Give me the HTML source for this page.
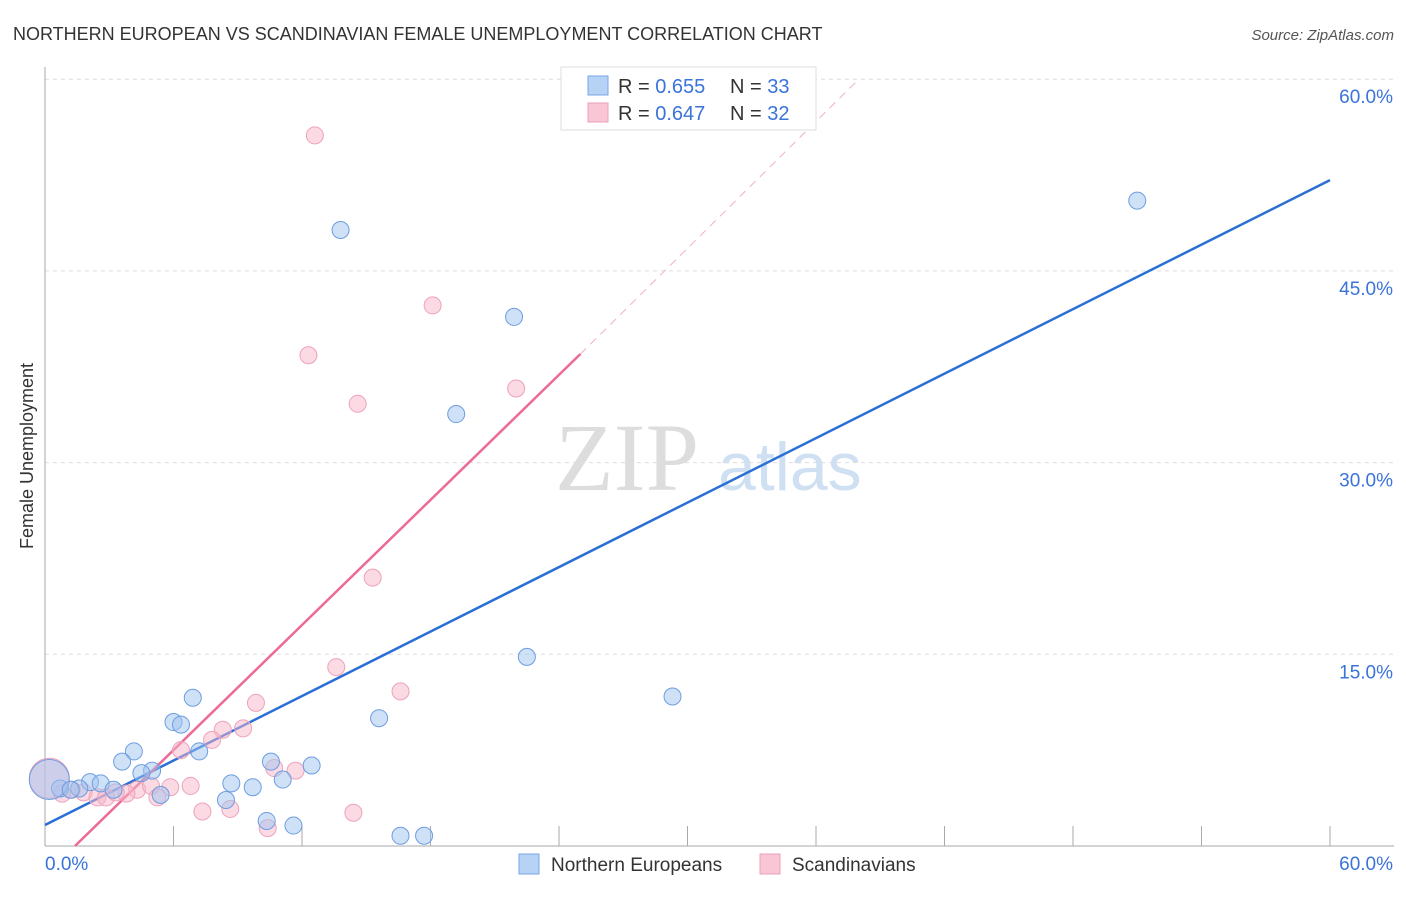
<!DOCTYPE html>
<html><head><meta charset="utf-8"><style>
body{margin:0;background:#fff;font-family:"Liberation Sans",sans-serif}
</style></head><body>
<svg width="1406" height="892" xmlns="http://www.w3.org/2000/svg" id="chart">
<text x="13" y="40" font-size="18" fill="#333">NORTHERN EUROPEAN VS SCANDINAVIAN FEMALE UNEMPLOYMENT CORRELATION CHART</text>
<text x="1394" y="40" font-size="15" fill="#555" font-style="italic" text-anchor="end">Source: ZipAtlas.com</text>
<text x="33" y="456" font-size="18" fill="#333" text-anchor="middle" transform="rotate(-90 33 456)">Female Unemployment</text>
<text x="555" y="490" font-size="96" fill="#ddd" font-family="Liberation Serif,serif">ZIP</text>
<text x="718" y="490" font-size="68" fill="#cfe0f3">atlas</text>
<g id="grid"></g><g id="axes"></g><g id="lines"></g><g id="pts"></g>
<g>
<rect x="561" y="67" width="255" height="63" fill="#fff" stroke="#ddd"/>
<rect x="588" y="76" width="20" height="19" fill="#b6d2f5" stroke="#7aa6e6"/>
<text x="618" y="93" font-size="20" fill="#333">R = <tspan fill="#3a73d9">0.655</tspan></text>
<text x="730" y="93" font-size="20" fill="#333">N = <tspan fill="#3a73d9">33</tspan></text>
<rect x="588" y="103" width="20" height="19" fill="#f9c6d6" stroke="#ee9fb8"/>
<text x="618" y="120" font-size="20" fill="#333">R = <tspan fill="#3a73d9">0.647</tspan></text>
<text x="730" y="120" font-size="20" fill="#333">N = <tspan fill="#3a73d9">32</tspan></text>
</g>
<g>
<rect x="519" y="854" width="20" height="20" fill="#b6d2f5" stroke="#7aa6e6"/>
<text x="551" y="871" font-size="19" fill="#333">Northern Europeans</text>
<rect x="760" y="854" width="20" height="20" fill="#f9c6d6" stroke="#ee9fb8"/>
<text x="792" y="871" font-size="19" fill="#333">Scandinavians</text>
</g>
</svg>
<script>
const blueX=[51.0,13.8,21.9,19.2,22.5,29.3,6.9,15.6,6.0,6.35,4.15,7.2,3.6,10.55,12.45,5.0,4.5,11.1,8.7,2.1,2.6,9.7,0.7,1.6,3.2,5.4,8.45,10.35,11.6,16.6,17.7,0.2,1.2];
const blueY=[50.5,48.2,41.4,33.8,14.8,11.7,11.6,10.0,9.7,9.5,7.4,7.4,6.6,6.6,6.3,5.9,5.7,5.2,4.9,5.0,4.9,4.6,4.5,4.5,4.4,4.0,3.6,1.96,1.6,0.8,0.8,5.2,4.4];
const pinkX=[12.6,18.1,12.3,14.6,22.0,15.3,13.6,16.6,9.85,9.25,8.3,7.8,6.35,10.7,11.7,6.8,5.85,4.3,4.95,1.25,1.8,2.45,2.85,3.8,5.25,7.35,8.65,10.4,14.4,0.2,0.8,3.3];
const pinkY=[55.6,42.3,38.4,34.6,35.8,21.0,14.0,12.1,11.2,9.2,9.1,8.3,7.5,6.1,5.9,4.7,4.6,4.4,4.7,4.4,4.2,3.8,3.8,4.1,3.8,2.7,2.9,1.4,2.6,5.3,4.1,4.2];
const yTicks=[15,30,45,60];
const yTickLabels=["15.0%","30.0%","45.0%","60.0%"];
const xTickLabels=["0.0%","60.0%"];
const blueFit=[1.64,52.1];
const pinkFit=[[1.4,0],[25.0,38.5],[38.0,60.0]];
const X=v=>45+v*1285/60, Y=v=>846-v*191.7/15;
const NS="http://www.w3.org/2000/svg";
function mk(t,a,p){const e=document.createElementNS(NS,t);for(const k in a)e.setAttribute(k,a[k]);document.getElementById(p).appendChild(e);return e;}
yTicks.forEach((t,i)=>{
 const g=mk('line',{x1:45,x2:1394,y1:Y(t),y2:Y(t),stroke:'#ddd','stroke-dasharray':'4,4'},'grid');
 
 
 const l=mk('text',{x:1393,y:Y(t)+24,'font-size':19,fill:'#3a73d9','text-anchor':'end'},'grid');
 l.textContent=yTickLabels[i];
 
 
});
mk('line',{x1:45,x2:45,y1:67,y2:846,stroke:'#aaa'},'axes');
mk('line',{x1:45,x2:1394,y1:846,y2:846,stroke:'#aaa'},'axes');
for(let i=1;i<=10;i++){const t=mk('line',{x1:X(i*6),x2:X(i*6),y1:826,y2:846,stroke:'#aaa'},'axes');
 
 }
const xl0=mk('text',{x:45,y:870,'font-size':19,fill:'#3a73d9'},'axes');xl0.textContent=xTickLabels[0];


const xl1=mk('text',{x:1393,y:870,'font-size':19,fill:'#3a73d9','text-anchor':'end'},'axes');xl1.textContent=xTickLabels[1];


const bl=mk('line',{x1:X(0),y1:Y(blueFit[0]),x2:X(60),y2:Y(blueFit[1]),stroke:'#2a6fd6','stroke-width':2.5},'lines');


const pl=mk('line',{x1:X(pinkFit[0][0]),y1:Y(pinkFit[0][1]),x2:X(pinkFit[1][0]),y2:Y(pinkFit[1][1]),stroke:'#ec6a93','stroke-width':2.5},'lines');


const pd=mk('line',{x1:X(pinkFit[1][0]),y1:Y(pinkFit[1][1]),x2:X(pinkFit[2][0]),y2:Y(pinkFit[2][1]),stroke:'#f0b0c4','stroke-width':1,'stroke-dasharray':'8,6'},'lines');


function pts(xs,ys,fill,stroke,name){xs.forEach((x,i)=>{const big=i===xs.length-(name==='blue-point'?2:3);
 const c=mk('circle',{cx:X(x),cy:Y(ys[i]),r:big?20:8.5,fill:fill,stroke:stroke,'stroke-width':1},'pts');
 
 });}
pts(pinkX,pinkY,'rgba(248,182,202,0.5)','#eea2ba','pink-point');
pts(blueX,blueY,'rgba(160,196,240,0.5)','#6d9de0','blue-point');
</script>
</body></html>
